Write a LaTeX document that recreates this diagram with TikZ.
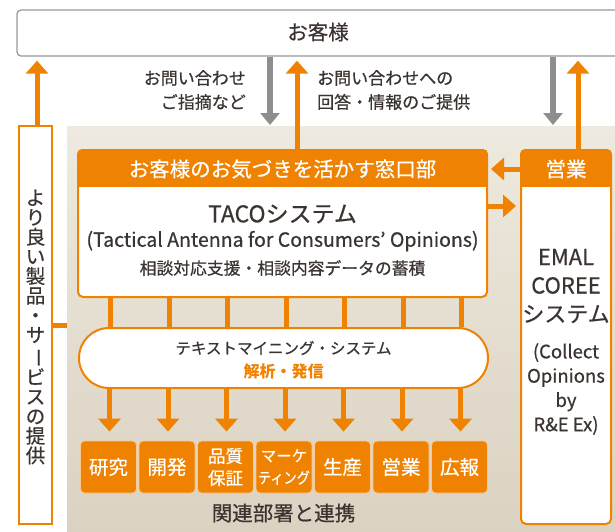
\documentclass[tikz,border=0pt]{standalone}
\usepackage{fontspec}
\setmainfont{Noto Sans CJK JP}[UprightFeatures={FakeBold=0.6}]
\usetikzlibrary{arrows.meta}
\definecolor{org}{HTML}{EF8200}
\definecolor{gry}{HTML}{8E8E8E}
\definecolor{txt}{HTML}{3B3431}
\definecolor{bgtop}{HTML}{EEEADF}
\definecolor{bgbot}{HTML}{DBD2C2}
\definecolor{dborder}{HTML}{F8C890}
\newcommand{\fs}[1]{\fontsize{#1pt}{#1pt}\selectfont}
\begin{document}
\begin{tikzpicture}[x=1pt,y=-1pt,
  oarrow/.style={draw=org, line width=5pt, -{Triangle[width=22pt,length=13pt]}},
  garrow/.style={draw=gry, line width=5.5pt, -{Triangle[width=19pt,length=12pt]}},
  oline/.style={draw=org, line width=5pt},
  lbl/.style={text=txt, inner sep=0pt},
  dept/.style={fill=org, draw=dborder, line width=0.8pt, rounded corners=4pt,
    minimum width=56pt, minimum height=52pt, inner sep=0pt, text=white, align=center},
]
\useasboundingbox (0,0) rectangle (615,531);
% background
\node[top color=bgtop, bottom color=bgbot, minimum width=548pt, minimum height=405pt, inner sep=0pt] (bg) at (341,328.5) {};
% customer box
\node[draw=gry!90, line width=1.3pt, fill=white, rounded corners=4pt, minimum width=608pt, minimum height=46pt, inner sep=0pt] (cust) at (321,33) {};
\node[lbl, font=\fs{20.5}] (custtxt) at (318,32) {お客様};
% left box
\node[draw=org, line width=2pt, fill=white, minimum width=32.5pt, minimum height=398pt, inner sep=0pt] (left) at (35.5,325) {};
\node[lbl, font=\fontsize{19.5pt}{19.6pt}\selectfont, align=center] (lefttxt) at (35.5,327)
 {\lineskiplimit=-30pt よ\\り\\良\\い\\製\\品\\・\\サ\\\rotatebox[origin=c]{-90}{ー}\\ビ\\ス\\の\\提\\供};
\coordinate (stub) at (60,325);
\draw[oline] (left.east |- stub) -- (bg.west |- stub);
% top texts
\node[lbl, anchor=east, align=right, font=\fontsize{17pt}{24pt}\selectfont] (q1) at (246,90) {お問い合わせ\\ご指摘など};
\node[lbl, anchor=west, align=left, font=\fontsize{17pt}{24pt}\selectfont] (q2) at (317,90) {お問い合わせへの\\回答・情報のご提供};
% TACO box
\node[draw=org, line width=2pt, rounded corners=5pt, fill=white, minimum width=409pt, minimum height=147pt, inner sep=0pt] (taco) at (282.5,223.5) {};
\begin{scope}
\clip[rounded corners=5pt] (taco.north west) rectangle (taco.south east);
\fill[org] (taco.north west) rectangle ([yshift=-38pt]taco.north east);
\end{scope}
\node[lbl, text=white, font=\fs{20.5}] (tacohdr) at (282.5,169) {お客様のお気づきを活かす窓口部};
\node[lbl, font=\fs{23}] (tacot1) at (282.5,214) {TACOシステム};
\node[lbl, font=\fs{19.5}] (tacot2) at (282.5,241) {(Tactical Antenna for Consumers’ Opinions)};
\node[lbl, font=\fs{16.8}] (tacot3) at (282.5,268) {相談対応支援・相談内容データの蓄積};
% EMAL box
\node[draw=org, line width=2pt, rounded corners=5pt, fill=white, minimum width=90pt, minimum height=374pt, inner sep=0pt] (emal) at (566,337) {};
\begin{scope}
\clip[rounded corners=5pt] (emal.north west) rectangle (emal.south east);
\fill[org] (emal.north west) rectangle ([yshift=-38pt]emal.north east);
\end{scope}
\node[lbl, text=white, font=\fs{20.5}] (emalhdr) at (566,169) {営業};
\node[lbl, align=center, font=\fontsize{22pt}{28.5pt}\selectfont] (emalt1) at (566,286) {EMAL\\COREE\\システム};
\node[lbl, align=center, font=\fontsize{18.5pt}{24.3pt}\selectfont] (emalt2) at (566,389) {(Collect\\Opinions\\by\\R\&E Ex)};
% top arrows
\coordinate (xl) at (37,0);
\coordinate (g1) at (270,125);
\coordinate (o1) at (297,0);
\coordinate (g2) at (553,125);
\coordinate (o2) at (578,0);
\draw[oarrow, shorten >=4pt] (left.north -| xl) -- (cust.south -| xl);
\draw[garrow] (cust.south -| g1) -- (g1);
\draw[oarrow, shorten >=4pt] (taco.north -| o1) -- (cust.south -| o1);
\draw[garrow] (cust.south -| g2) -- (g2);
\draw[oarrow, shorten >=4pt] (emal.north -| o2) -- (cust.south -| o2);
% side arrows
\coordinate (h1) at (0,169);
\coordinate (h2) at (0,206);
\draw[oarrow, shorten >=3pt] (emal.west |- h1) -- (taco.east |- h1);
\draw[oarrow, shorten >=4pt] (taco.east |- h2) -- (emal.west |- h2);
% text mining
\node[draw=org, line width=2pt, fill=white, rounded corners=30pt, minimum width=409pt, minimum height=60pt, inner sep=0pt] (mine) at (283.5,358) {};
\node[lbl, font=\fs{15.5}] (minet1) at (283.5,348) {テキストマイニング・システム};
\node[lbl, text=org, font=\bfseries\fs{16}] (minet2) at (283.5,371) {解析・発信};
% departments
\node[dept, font=\fs{19.5}] (d1) at (108.5,467) {研究};
\node[dept, font=\fs{19.5}] (d2) at (167,467) {開発};
\node[dept, font=\fontsize{17.5pt}{22pt}\selectfont] (d3) at (225.5,467) {品質\\保証};
\node[dept, font=\fontsize{15.5pt}{22pt}\selectfont] (d4) at (284,467) {マーケ\\\scalebox{0.85}[1]{ティング}};
\node[dept, font=\fs{19.5}] (d5) at (342.5,467) {生産};
\node[dept, font=\fs{19.5}] (d6) at (401,467) {営業};
\node[dept, font=\fs{19.5}] (d7) at (459.5,467) {広報};
\foreach \i in {1,...,7} {
  \draw[oline] ([xshift=2pt]taco.south -| d\i.north) -- ([xshift=2pt]mine.north -| d\i.north);
  \draw[oarrow, shorten >=9pt] ([xshift=1pt]mine.south -| d\i.north) -- ([xshift=1pt]d\i.north);
}
\node[lbl, font=\fs{20.5}] (rel) at (283.5,513) {関連部署と連携};
\end{tikzpicture}
\end{document}
